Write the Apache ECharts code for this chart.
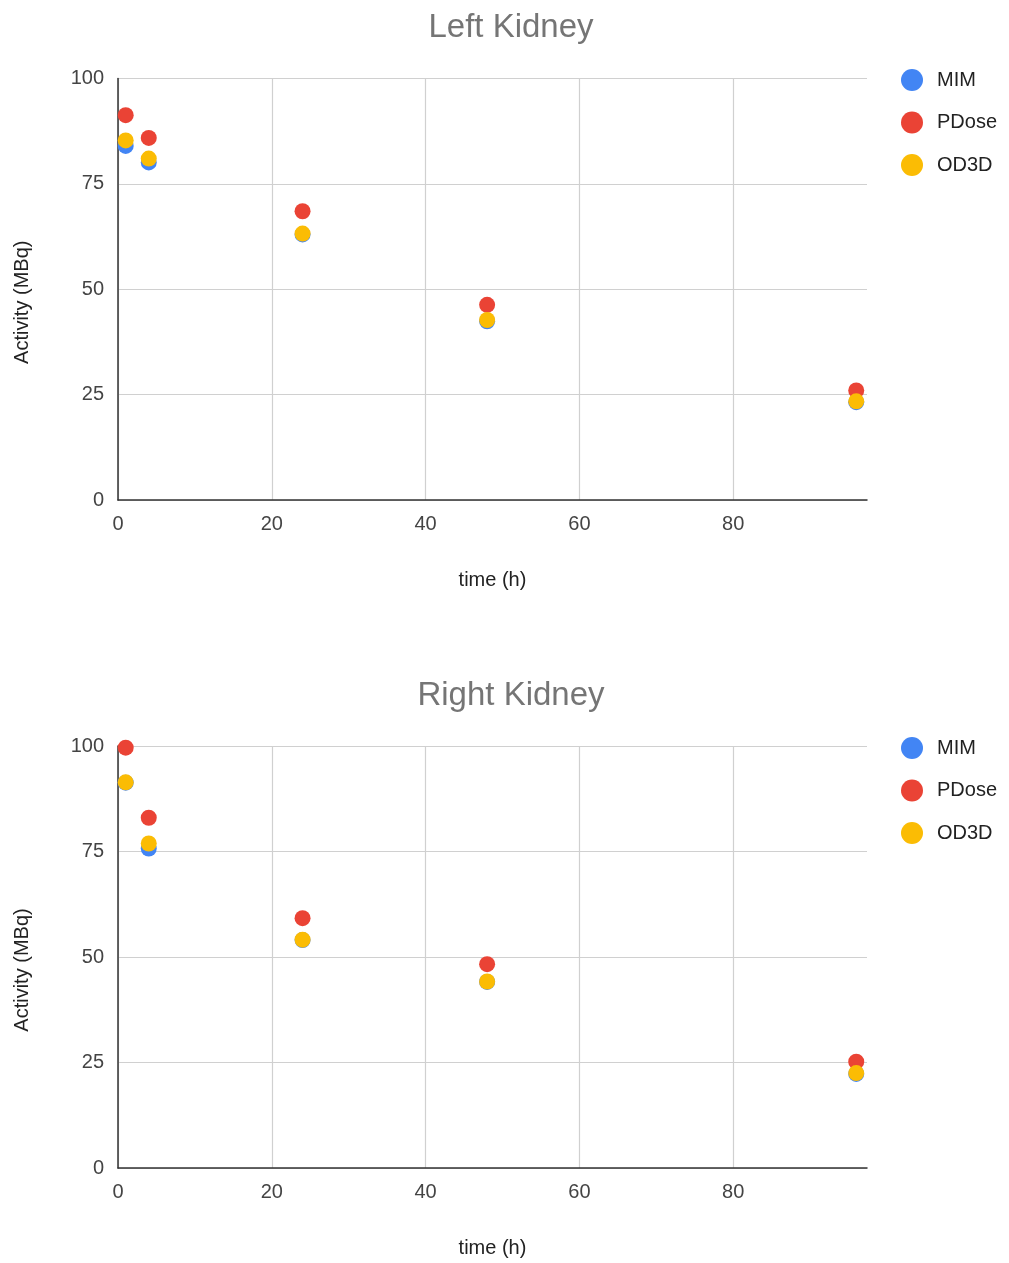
<!DOCTYPE html>
<html>
<head>
<meta charset="utf-8">
<script src="https://cdn.jsdelivr.net/npm/echarts@6/dist/echarts.min.js"></script>
<style>
html,body{margin:0;padding:0;background:#fff;}
#c{width:1009px;height:1263px;}
</style>
</head>
<body>
<div id="c"></div>
<script>
const times = [1, 4, 24, 48, 96];
const seriesNames = ['MIM', 'PDose', 'OD3D'];
const leftMIM = [84.0, 80.1, 63.0, 42.4, 23.2];
const leftPDose = [91.3, 85.9, 68.5, 46.3, 26.0];
const leftOD3D = [85.3, 81.0, 63.2, 42.7, 23.4];
const rightMIM = [91.3, 75.7, 54.0, 44.1, 22.3];
const rightPDose = [99.6, 83.0, 59.2, 48.3, 25.2];
const rightOD3D = [91.4, 76.9, 54.1, 44.2, 22.5];
const chartTitles = ['Left Kidney', 'Right Kidney'];
const xTitle = 'time (h)';
const yTitle = 'Activity (MBq)';

const colors = ['#4285F4', '#EA4335', '#FBBC04'];
const font = '"Liberation Sans", Arial, sans-serif';
const gridColor = '#d0d0d0';

const chart = echarts.init(document.getElementById('c'), null, {renderer: 'canvas'});

const grids = [
  {left: 118, width: 749, top: 78.5, height: 421.5},
  {left: 118, width: 749, top: 746, height: 422}
];

function xAxis(i) {
  return {
    gridIndex: i, type: 'value', min: 0, max: 97.4, interval: 20,
    name: xTitle, nameLocation: 'middle', nameGap: 70,
    nameTextStyle: {color: '#222', fontSize: 20, fontFamily: font},
    axisLine: {show: true, lineStyle: {color: '#333', width: 1.5}},
    axisTick: {show: false},
    axisLabel: {color: '#444', fontSize: 20, fontFamily: font, margin: 14,
      formatter: v => (v % 20 === 0 ? String(v) : '')},
    splitLine: {show: true, lineStyle: {
      color: [gridColor, gridColor, gridColor, gridColor, gridColor, 'rgba(0,0,0,0)'],
      width: 1.2}}
  };
}
function yAxis(i) {
  return {
    gridIndex: i, type: 'value', min: 0, max: 100, interval: 25,
    name: yTitle, nameLocation: 'middle', nameGap: 86, nameRotate: 90,
    nameTextStyle: {color: '#222', fontSize: 20, fontFamily: font, padding: [0, 26, 0, 0]},
    axisLine: {show: true, lineStyle: {color: '#333', width: 1.5}},
    axisTick: {show: false},
    axisLabel: {color: '#444', fontSize: 20, fontFamily: font, margin: 14},
    splitLine: {show: true, lineStyle: {color: gridColor, width: 1.2}}
  };
}

const dataSets = [[leftMIM, leftPDose, leftOD3D], [rightMIM, rightPDose, rightOD3D]];
const series = [];
dataSets.forEach((set, gi) => {
  set.forEach((vals, si) => {
    series.push({
      name: seriesNames[si], type: 'scatter',
      xAxisIndex: gi, yAxisIndex: gi,
      symbol: 'circle', symbolSize: 16,
      itemStyle: {color: colors[si], opacity: 1},
      data: times.map((t, k) => [t, vals[k]]),
      z: 2 + si
    });
  });
});

function legend(top) {
  return {
    orient: 'vertical', left: 896, top: top,
    icon: 'circle', itemWidth: 22, itemHeight: 22, itemGap: 20.5,
    textStyle: {color: '#222', fontSize: 20, fontFamily: font, padding: [0, 0, 0, 9]},
    data: seriesNames, selectedMode: false
  };
}

chart.setOption({
  animation: false,
  color: colors,
  title: [
    {text: chartTitles[0], left: 506, top: 6, textAlign: 'center',
      textStyle: {color: '#757575', fontSize: 33, fontWeight: 'normal', fontFamily: font}},
    {text: chartTitles[1], left: 506, top: 674, textAlign: 'center',
      textStyle: {color: '#757575', fontSize: 33, fontWeight: 'normal', fontFamily: font}}
  ],
  legend: [legend(64), legend(732)],
  grid: grids,
  xAxis: [xAxis(0), xAxis(1)],
  yAxis: [yAxis(0), yAxis(1)],
  series: series
});
</script>
</body>
</html>
